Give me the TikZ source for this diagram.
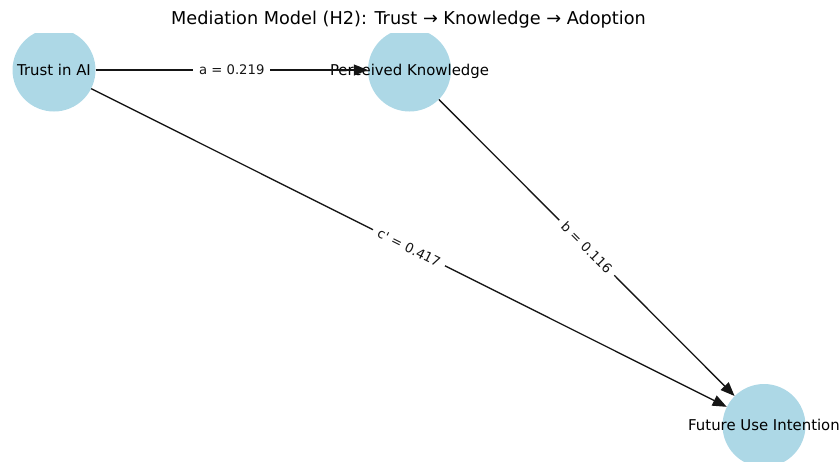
\documentclass[tikz,border=0pt]{standalone}
\usepackage{fontspec}
\setmainfont{DejaVu Sans}[Ligatures=TeXOff]
\usetikzlibrary{arrows.meta}
\definecolor{nodeblue}{HTML}{ADD8E6}
\definecolor{edgeink}{HTML}{151515}
\tikzset{
  var/.style={circle, fill=nodeblue, minimum size=83pt, inner sep=0pt},
  varlabel/.style={anchor=base, inner sep=0pt, font=\fontsize{14.9}{17}\selectfont},
  path/.style={draw=edgeink, line width=1.3pt, -{Triangle[length=14pt, width=11pt]}},
  coef/.style={fill=white, inner xsep=6pt, inner ysep=3pt, sloped, midway,
               font=\fontsize{13.2}{15}\selectfont, text=edgeink},
  heading/.style={anchor=base, inner sep=0pt, font=\fontsize{17.7}{20}\selectfont}
}
\begin{document}
\begin{tikzpicture}[x=1pt, y=-1pt]
  \useasboundingbox (0,0) rectangle (840,461);
  % variable circles, clipped at the top of the plotting area
  \begin{scope}
    \clip (0,33) rectangle (840,461);
    \node[var] (trust) at (54,70) {};
    \node[var] (know) at (409.5,70) {};
    \node[var] (future) at (764,425.5) {};
  \end{scope}
  % variable names
  \node[varlabel] (trustL) at (54,75.4) {Trust in AI};
  \node[varlabel] (knowL) at (409.5,75.4) {Perceived Knowledge};
  \node[varlabel] (futureL) at (764,430.9) {Future Use Intention};
  % paths with coefficients
  \draw[path] (trust) -- (know) node[coef] (la) {a = 0.219};
  \draw[path] (know) -- (future) node[coef] (lb) {b = 0.116};
  \draw[path] (trust) -- (future) node[coef] (lc) {c' = 0.417};
  % title
  \node[heading] (title) at (408.5,24.5) {Mediation Model (H2): Trust → Knowledge → Adoption};
\end{tikzpicture}
\end{document}
